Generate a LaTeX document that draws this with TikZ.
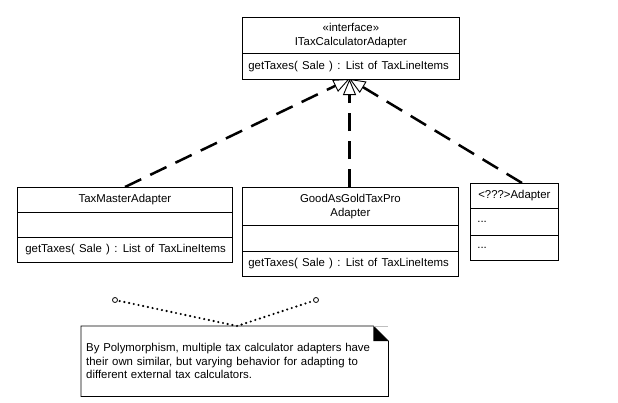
\documentclass[tikz,border=0pt]{standalone}
\usepackage{fontspec}
\setmainfont{Liberation Sans}
\usetikzlibrary{arrows.meta}
\newcommand{\opline}[1]{{\spaceskip=4.3pt plus 0pt minus 0pt\relax #1}}
\begin{document}
\begin{tikzpicture}[x=1pt,y=-1pt,
  font=\fontsize{11.4}{13.5}\selectfont,
  comp/.style={draw=black, line width=0.8pt, fill=white, anchor=north west, inner ysep=0pt, align=center},
  realize/.style={line width=2.5pt, dash pattern=on 18pt off 10pt,
    -{Triangle[length=16pt, width=13pt, line width=0.9pt, fill=white]}},
  dotline/.style={line width=2.4pt, line cap=round, dash pattern=on 0pt off 4.8pt},
  endcirc/.style={circle, draw=black, line width=0.8pt, fill=white, inner sep=0pt, minimum size=5pt},
  notebox/.style={anchor=north west, inner xsep=5pt, inner ysep=0pt, text width=297pt, minimum height=70pt, align=left}
]
\useasboundingbox (0,0) rectangle (618,402);

% coordinates for connector ends
\coordinate (tip) at (349.5,79);
\coordinate (tmTop) at (125,187);
\coordinate (ggTop) at (349.5,187);
\coordinate (uqTop) at (522,183);
\coordinate (noteTop) at (237,326);

% realization connectors
\draw[realize] (tmTop) -- (tip);
\draw[realize] (ggTop) -- (tip);
\draw[realize] (uqTop) -- (tip);

% interface
\node[comp, minimum width=217pt, minimum height=36pt] (itaT) at (242,17) {«interface»\\ITaxCalculatorAdapter};
\node[comp, minimum width=217pt, minimum height=26pt, inner xsep=6pt] (itaO) at (242,53) {\makebox[205pt][l]{\opline{getTaxes( Sale ) : List of TaxLineItems}}};

% TaxMasterAdapter
\node[comp, minimum width=215pt, minimum height=25pt] (tmT) at (17,187) {TaxMasterAdapter};
\node[comp, minimum width=215pt, minimum height=25pt] (tmA) at (17,212) {};
\node[comp, minimum width=215pt, minimum height=25pt, inner xsep=8pt] (tmO) at (17,237) {\makebox[199pt][l]{\opline{getTaxes( Sale ) : List of TaxLineItems}}};

% GoodAsGoldTaxProAdapter
\node[comp, minimum width=216pt, minimum height=38pt] (ggT) at (242,187) {GoodAsGoldTaxPro\\Adapter};
\node[comp, minimum width=216pt, minimum height=26pt] (ggA) at (242,225) {};
\node[comp, minimum width=216pt, minimum height=25pt, inner xsep=6pt] (ggO) at (242,251) {\makebox[204pt][l]{\opline{getTaxes( Sale ) : List of TaxLineItems}}};

% <???>Adapter
\node[comp, minimum width=88pt, minimum height=25pt] (uqT) at (470,183) {<???>Adapter};
\node[comp, minimum width=88pt, minimum height=27pt, inner xsep=7pt] (uqA) at (470,208) {\makebox[74pt][l]{...}};
\node[comp, minimum width=88pt, minimum height=25pt, inner xsep=7pt] (uqO) at (470,235) {\makebox[74pt][l]{...}};

% note
\node[notebox] (note) at (81,326) {By Polymorphism, multiple tax calculator adapters have\\their own similar, but varying behavior for adapting to\\different external tax calculators.};
\draw[line width=0.8pt] (note.north west) -- ([xshift=-15pt]note.north east) -- ([yshift=-15pt]note.north east) -- (note.south east) -- (note.south west) -- cycle;
\draw[gray!50, line width=0.5pt] ([xshift=-15pt]note.north east) -- (note.north east);
\fill[black] ([xshift=-15pt]note.north east) -- ([xshift=-15pt,yshift=-15pt]note.north east) -- ([yshift=-15pt]note.north east) -- cycle;

% note anchors
\draw[dotline] (115,300) -- (noteTop) -- (316,300);
\node[endcirc] (c1) at (115,300) {};
\node[endcirc] (c2) at (316,300) {};
\end{tikzpicture}
\end{document}
